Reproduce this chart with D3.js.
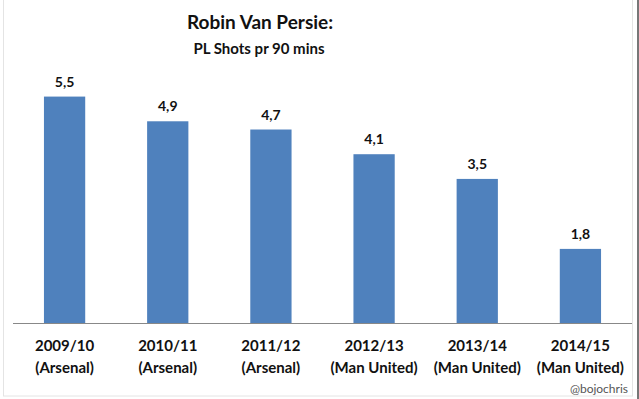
<!DOCTYPE html>
<html>
<head>
<meta charset="utf-8">
<script src="https://cdnjs.cloudflare.com/ajax/libs/d3/7.8.5/d3.min.js"></script>
<style>
  body { margin: 0; background: #fff; }
  svg { display: block; }
  text { font-family: Lato, "Open Sans", sans-serif; }
</style>
</head>
<body>
<div id="chart"></div>
<script>
//chart data
var seasons = ["2009/10", "2010/11", "2011/12", "2012/13", "2013/14", "2014/15"];
var clubs = ["(Arsenal)", "(Arsenal)", "(Arsenal)", "(Man United)", "(Man United)", "(Man United)"];
var shots = [5.5, 4.9, 4.7, 4.1, 3.5, 1.8];
var labels = ["5,5", "4,9", "4,7", "4,1", "3,5", "1,8"];

(function(){

window.onload = setChart;

function setChart(){
    var width = 639, height = 399;

    var svg = d3.select("#chart")
        .append("svg")
        .attr("width", width)
        .attr("height", height);

    //faint chart border
    svg.append("rect")
        .attr("x", 3.5).attr("y", -1)
        .attr("width", 629).attr("height", 397)
        .attr("fill", "none")
        .attr("stroke", "#e4e4e4");

    svg.append("line")
        .attr("x1", 638).attr("x2", 638)
        .attr("y1", 0).attr("y2", height)
        .attr("stroke", "#777").attr("stroke-width", 2);

    var x = d3.scaleBand()
        .domain(seasons)
        .range([13, 632])
        .paddingInner(0.6)
        .paddingOuter(0.3);

    var y = d3.scaleLinear()
        .domain([0, 6])
        .range([323, 76]);

    //title
    svg.append("text")
        .attr("x", 260).attr("y", 29)
        .attr("text-anchor", "middle")
        .attr("font-size", 19)
        .attr("font-weight", "bold")
        .attr("fill", "#111")
        .text("Robin Van Persie:");

    svg.append("text")
        .attr("x", 259).attr("y", 54)
        .attr("text-anchor", "middle")
        .attr("font-size", 15)
        .attr("font-weight", "bold")
        .attr("fill", "#111")
        .text("PL Shots pr 90 mins");

    //bars
    svg.selectAll(".bar")
        .data(shots)
        .enter()
        .append("rect")
        .attr("class", "bar")
        .attr("x", function(d, i){ return x(seasons[i]); })
        .attr("width", x.bandwidth())
        .attr("y", function(d){ return y(d); })
        .attr("height", function(d){ return y(0) - y(d); })
        .attr("fill", "#4f81bd");

    //value labels
    svg.selectAll(".val")
        .data(shots)
        .enter()
        .append("text")
        .attr("class", "val")
        .attr("x", function(d, i){ return x(seasons[i]) + x.bandwidth() / 2; })
        .attr("y", function(d){ return y(d) - 10; })
        .attr("text-anchor", "middle")
        .attr("font-size", 14)
        .attr("font-weight", "bold")
        .attr("fill", "#111")
        .text(function(d, i){ return labels[i]; });

    //axis
    var axis = svg.append("g")
        .attr("transform", "translate(0," + y(0) + ")")
        .call(d3.axisBottom(x).tickSize(0).tickFormat(""));
    axis.select(".domain")
        .attr("d", "M13,0.5H632")
        .attr("stroke", "#888");

    //category labels
    var cats = svg.selectAll(".cat")
        .data(seasons)
        .enter()
        .append("text")
        .attr("class", "cat")
        .attr("x", function(d){ return x(d) + x.bandwidth() / 2; })
        .attr("y", 351)
        .attr("text-anchor", "middle")
        .attr("font-size", 15)
        .attr("font-weight", "bold")
        .attr("fill", "#111");
    cats.append("tspan").text(function(d){ return d; });
    cats.append("tspan")
        .attr("x", function(d){ return x(d) + x.bandwidth() / 2; })
        .attr("dy", 22)
        .text(function(d, i){ return clubs[i]; });

    //credit
    svg.append("text")
        .attr("x", 628).attr("y", 393)
        .attr("text-anchor", "end")
        .attr("font-size", 12)
        .attr("fill", "#555")
        .text("@bojochris");
};

})();
</script>
</body>
</html>
